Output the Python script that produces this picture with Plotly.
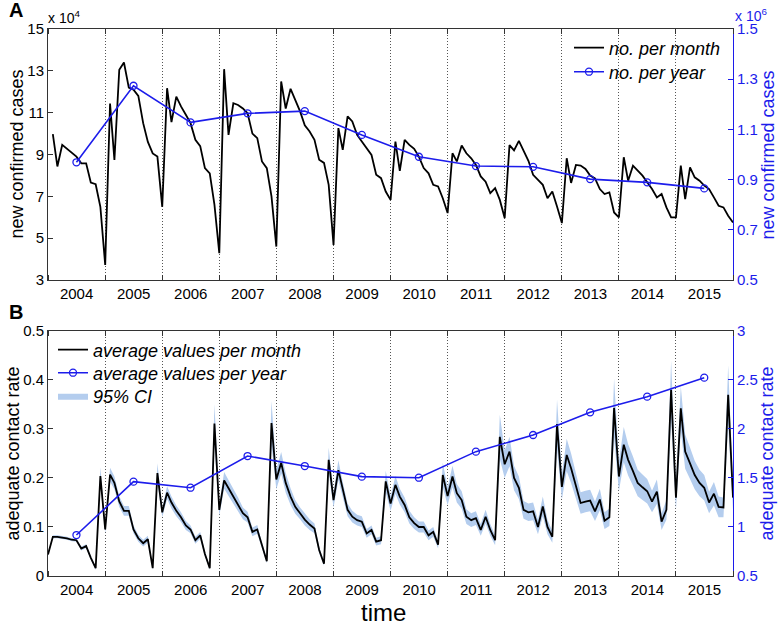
import plotly.graph_objects as go
import pandas as pd

# ---------------- data ----------------
years = list(range(2004, 2016))
# month index 0..144 (Jan 2004 .. Jan 2016)
month_dates = pd.date_range("2004-01-01", periods=145, freq="MS")
year_mid_dates = pd.to_datetime([f"{y}-07-01" for y in years])

# panel A: new confirmed cases per month (x 10^4), months 1..144
monthly_cases_1e4 = [
    9.97, 8.43, 9.46, 9.27, 9.11, 8.90, 8.58, 8.58, 7.66, 7.58, 6.50, 3.72,
    11.44, 8.74, 13.05, 13.40, 12.20, 12.10, 11.80, 10.50, 9.60, 9.05, 8.90, 6.50,
    12.17, 10.55, 11.77, 11.30, 10.90, 10.50, 9.70, 9.40, 8.35, 8.10, 6.60, 4.28,
    13.08, 9.94, 11.45, 11.37, 11.20, 10.97, 10.00, 9.78, 8.67, 8.35, 7.00, 4.60,
    12.49, 11.20, 12.14, 11.60, 11.06, 10.40, 10.10, 9.70, 8.75, 8.60, 7.55, 4.68,
    10.26, 9.22, 10.82, 10.58, 9.94, 9.62, 9.30, 8.98, 8.03, 7.87, 7.23, 6.83,
    9.62, 8.22, 9.70, 9.46, 9.27, 8.90, 8.35, 8.10, 7.55, 7.47, 6.91, 6.20,
    9.06, 8.67, 9.43, 9.06, 8.82, 8.50, 7.95, 7.70, 7.15, 7.39, 6.83, 5.96,
    9.45, 9.20, 9.65, 9.20, 8.70, 8.03, 7.79, 7.55, 6.91, 7.23, 6.51, 5.72,
    8.82, 7.64, 8.50, 8.47, 8.31, 7.99, 7.86, 7.35, 7.11, 7.19, 6.23, 5.99,
    8.87, 7.75, 8.47, 8.23, 7.99, 7.67, 7.35, 6.95, 7.11, 6.47, 5.99, 5.99,
    8.47, 6.87, 8.39, 7.91, 7.75, 7.51, 7.35, 6.95, 6.55, 6.47, 6.07, 5.75,
]
# panel A: new confirmed cases per year (x 10^6)
yearly_cases_1e6 = [0.969, 1.274, 1.128, 1.164, 1.173, 1.078,
                    0.991, 0.954, 0.951, 0.902, 0.889, 0.865]

# panel B: adequate contact rate, average per month, months 0..144
monthly_rate = [
    0.044, 0.080, 0.080, 0.079, 0.077, 0.074, 0.073, 0.056, 0.061, 0.037, 0.016, 0.204, 0.095,
    0.207, 0.190, 0.152, 0.133, 0.133, 0.095, 0.077, 0.067, 0.075, 0.016, 0.210, 0.130,
    0.170, 0.150, 0.133, 0.120, 0.103, 0.095, 0.073, 0.083, 0.045, 0.016, 0.311, 0.135,
    0.195, 0.180, 0.163, 0.147, 0.128, 0.120, 0.090, 0.095, 0.063, 0.030, 0.312, 0.197,
    0.231, 0.190, 0.162, 0.141, 0.128, 0.115, 0.105, 0.097, 0.053, 0.025, 0.237, 0.155,
    0.216, 0.175, 0.135, 0.121, 0.114, 0.111, 0.087, 0.094, 0.070, 0.073, 0.193, 0.148,
    0.186, 0.162, 0.145, 0.120, 0.108, 0.100, 0.100, 0.083, 0.090, 0.064, 0.206, 0.163,
    0.203, 0.169, 0.155, 0.121, 0.114, 0.118, 0.094, 0.121, 0.094, 0.073, 0.284, 0.228,
    0.254, 0.200, 0.180, 0.135, 0.130, 0.132, 0.100, 0.142, 0.100, 0.080, 0.310, 0.182,
    0.247, 0.220, 0.186, 0.149, 0.152, 0.154, 0.132, 0.156, 0.113, 0.120, 0.343, 0.203,
    0.268, 0.237, 0.214, 0.190, 0.181, 0.173, 0.152, 0.172, 0.111, 0.135, 0.380, 0.160,
    0.342, 0.254, 0.230, 0.206, 0.190, 0.180, 0.150, 0.168, 0.141, 0.140, 0.370, 0.160,
]
# half-width of the 95% CI band, months 0..144
ci_half = [
    0.003, 0.003, 0.003, 0.003, 0.003, 0.003, 0.003, 0.004, 0.004, 0.004, 0.004, 0.018, 0.008,
    0.014, 0.013, 0.011, 0.010, 0.010, 0.008, 0.007, 0.007, 0.007, 0.003, 0.020, 0.010,
    0.013, 0.012, 0.011, 0.010, 0.009, 0.008, 0.007, 0.007, 0.005, 0.003, 0.040, 0.012,
    0.017, 0.016, 0.015, 0.013, 0.012, 0.011, 0.009, 0.009, 0.006, 0.004, 0.045, 0.020,
    0.022, 0.020, 0.017, 0.014, 0.012, 0.012, 0.011, 0.010, 0.006, 0.004, 0.025, 0.015,
    0.020, 0.017, 0.013, 0.012, 0.011, 0.011, 0.009, 0.009, 0.008, 0.008, 0.022, 0.015,
    0.018, 0.016, 0.015, 0.013, 0.012, 0.011, 0.011, 0.010, 0.010, 0.008, 0.025, 0.018,
    0.022, 0.019, 0.018, 0.015, 0.014, 0.014, 0.012, 0.014, 0.012, 0.010, 0.045, 0.028,
    0.030, 0.025, 0.023, 0.018, 0.018, 0.018, 0.015, 0.020, 0.015, 0.012, 0.050, 0.026,
    0.033, 0.030, 0.026, 0.022, 0.022, 0.022, 0.020, 0.022, 0.017, 0.018, 0.060, 0.030,
    0.036, 0.032, 0.030, 0.027, 0.026, 0.025, 0.022, 0.025, 0.017, 0.020, 0.060, 0.025,
    0.045, 0.035, 0.032, 0.029, 0.027, 0.026, 0.022, 0.024, 0.021, 0.020, 0.060, 0.025,
]
# panel B: adequate contact rate per year (right axis)
yearly_rate = [0.918, 1.463, 1.401, 1.724, 1.622, 1.514,
               1.503, 1.769, 1.939, 2.170, 2.330, 2.524]

ci_lower = [m - h for m, h in zip(monthly_rate, ci_half)]
ci_upper = [m + h for m, h in zip(monthly_rate, ci_half)]

# ---------------- styling ----------------
FONT = "Liberation Sans, Arial, sans-serif"
BLUE = "rgb(28,28,235)"
AXC = "#333333"
BAND = "rgb(180,205,238)"

fig = go.Figure()

# Panel A
fig.add_trace(go.Scatter(
    x=month_dates[1:], y=monthly_cases_1e4, mode="lines",
    line=dict(color="black", width=1.8), name="<i>no. per month</i>",
    xaxis="x", yaxis="y", legend="legend"))
fig.add_trace(go.Scatter(
    x=year_mid_dates, y=yearly_cases_1e6, mode="lines+markers",
    line=dict(color=BLUE, width=1.6),
    marker=dict(symbol="circle-open", size=7, color=BLUE, line=dict(width=1.3)),
    name="<i>no. per year</i>", xaxis="x", yaxis="y2", legend="legend2"))

# Panel B
fig.add_trace(go.Scatter(
    x=month_dates, y=ci_lower, mode="lines", line=dict(width=0, color=BAND),
    showlegend=False, hoverinfo="skip", xaxis="x2", yaxis="y3"))
fig.add_trace(go.Scatter(
    x=month_dates, y=ci_upper, mode="lines", line=dict(width=0, color=BAND),
    fill="tonexty", fillcolor=BAND, name="<i>95% CI</i>",
    xaxis="x2", yaxis="y3", legend="legend5"))
fig.add_trace(go.Scatter(
    x=month_dates, y=monthly_rate, mode="lines",
    line=dict(color="black", width=1.8), name="<i>average values per month</i>",
    xaxis="x2", yaxis="y3", legend="legend3"))
fig.add_trace(go.Scatter(
    x=year_mid_dates, y=yearly_rate, mode="lines+markers",
    line=dict(color=BLUE, width=1.6),
    marker=dict(symbol="circle-open", size=7, color=BLUE, line=dict(width=1.3)),
    name="<i>average values per year</i>", xaxis="x2", yaxis="y4",
    legend="legend4"))

xcommon = dict(
    type="date", range=["2004-01-01", "2016-01-01"], tick0="2004-01-01",
    dtick="M12", tickformat="%Y", ticklabelmode="period",
    ticks="inside", ticklen=5, tickcolor=AXC, showline=True, linecolor=AXC,
    linewidth=1, mirror="ticks", showgrid=True, gridcolor="#555555",
    griddash="1px,2px", gridwidth=1, zeroline=False,
    tickfont=dict(family=FONT, size=15, color="black"), automargin=False,
)
ycommon_left = dict(
    ticks="inside", ticklen=5, tickcolor=AXC, showline=True, linecolor=AXC,
    linewidth=1, showgrid=False, zeroline=False, side="left",
    tickfont=dict(family=FONT, size=15, color="black"), automargin=False,
)
ycommon_right = dict(
    ticks="inside", ticklen=5, tickcolor=BLUE, showline=True, linecolor=BLUE,
    linewidth=1, showgrid=False, zeroline=False, side="right",
    tickfont=dict(family=FONT, size=15, color=BLUE), automargin=False,
)

TOP_DOM = [0.5411, 1.0]
BOT_DOM = [0.0, 0.4479]


def px_x(px):
    return (px - 48) / 685.0


def px_y(py):
    return (576 - py) / 547.0


def one_legend(px, py):
    return dict(x=px_x(px), y=px_y(py), xanchor="left", yanchor="middle",
                bgcolor="rgba(0,0,0,0)", borderwidth=0,
                font=dict(family=FONT, size=18), tracegroupgap=0)


fig.update_layout(
    width=778, height=627, autosize=False,
    margin=dict(l=48, r=45, t=29, b=51),
    paper_bgcolor="white", plot_bgcolor="white",
    font=dict(family=FONT, color="black"),
    xaxis=dict(xcommon, domain=[0, 1], anchor="y"),
    xaxis2=dict(xcommon, domain=[0, 1], anchor="y3"),
    yaxis=dict(ycommon_left, domain=TOP_DOM, anchor="x", range=[3, 15],
               tickvals=[3, 5, 7, 9, 11, 13, 15]),
    yaxis2=dict(ycommon_right, overlaying="y", anchor="x", range=[0.5, 1.5],
                tickvals=[0.5, 0.7, 0.9, 1.1, 1.3, 1.5]),
    yaxis3=dict(ycommon_left, domain=BOT_DOM, anchor="x2", range=[0, 0.5],
                tickvals=[0, 0.1, 0.2, 0.3, 0.4, 0.5]),
    yaxis4=dict(ycommon_right, overlaying="y3", anchor="x2", range=[0.5, 3],
                tickvals=[0.5, 1, 1.5, 2, 2.5, 3]),
    legend=one_legend(569, 48),
    legend2=one_legend(569, 72),
    legend3=one_legend(53, 350),
    legend4=one_legend(53, 373),
    legend5=one_legend(53, 396),
    showlegend=True,
)

ann = []
# axis titles
ann.append(dict(text="new confirmed cases", x=px_x(16), y=px_y(154.5), textangle=-90,
                font=dict(family=FONT, size=18, color="black")))
ann.append(dict(text="new confirmed cases", x=px_x(767), y=px_y(154.5), textangle=-90,
                font=dict(family=FONT, size=18, color=BLUE)))
ann.append(dict(text="adequate contact rate", x=px_x(13), y=px_y(453.5), textangle=-90,
                font=dict(family=FONT, size=18, color="black")))
ann.append(dict(text="adequate contact rate", x=px_x(767), y=px_y(453.5), textangle=-90,
                font=dict(family=FONT, size=18, color=BLUE)))
ann.append(dict(text="time", x=px_x(383), y=px_y(612),
                font=dict(family=FONT, size=24, color="black")))
# exponents
ann.append(dict(text="x 10<sup>4</sup>", x=px_x(46), y=px_y(17), xanchor="left",
                font=dict(family=FONT, size=14, color="black")))
ann.append(dict(text="x 10<sup>6</sup>", x=px_x(733), y=px_y(15), xanchor="left",
                font=dict(family=FONT, size=14, color=BLUE)))
# panel letters
ann.append(dict(text="<b>A</b>", x=px_x(7), y=px_y(10), xanchor="left",
                font=dict(family=FONT, size=20, color="black")))
ann.append(dict(text="<b>B</b>", x=px_x(7), y=px_y(312), xanchor="left",
                font=dict(family=FONT, size=20, color="black")))

for a in ann:
    a.setdefault("xanchor", "center")
    a.update(xref="paper", yref="paper", yanchor="middle", showarrow=False)

fig.update_layout(annotations=ann)

fig.write_html(
    "out.html",
    config={"displayModeBar": False, "responsive": False},
    post_script="document.body.style.margin='0';",
)
